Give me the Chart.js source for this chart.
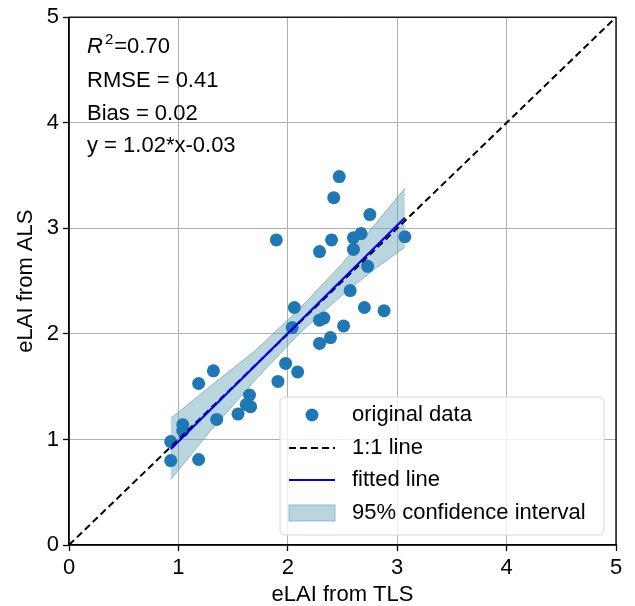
<!DOCTYPE html>
<html>
<head>
<meta charset="utf-8">
<script src="https://cdn.jsdelivr.net/npm/chart.js@4.4.1/dist/chart.umd.min.js"></script>
<style>
  html, body { margin: 0; padding: 0; background: #fff; }
  canvas { display: block; }
</style>
</head>
<body>
<canvas id="chart" width="635" height="606"></canvas>
<script>
// values
const tlsValues = [2.47, 2.42, 2.75, 1.895, 2.40, 2.60, 2.67, 3.07, 2.29, 2.60, 2.73, 2.57,
  2.70, 2.88, 2.06, 2.04, 2.29, 2.33, 2.51, 2.39, 2.29, 1.98, 2.09, 1.91, 1.32, 1.185,
  1.65, 1.62, 1.66, 1.545, 1.35, 1.04, 1.04, 0.93, 0.93, 1.185];
const alsValues = [3.49, 3.29, 3.13, 2.89, 2.89, 2.91, 2.95, 2.92, 2.78, 2.80, 2.64, 2.41,
  2.25, 2.22, 2.25, 2.06, 2.13, 2.15, 2.075, 1.965, 1.91, 1.72, 1.64, 1.55, 1.65, 1.53,
  1.42, 1.33, 1.31, 1.24, 1.19, 1.14, 1.08, 0.98, 0.80, 0.81];
const fitX = [0.93, 3.07];
const fitY = [0.91, 3.10];
const bandX = [0.93, 1.3, 1.7, 2.1, 2.5, 2.8, 3.07];
const bandUpper = [1.20, 1.51, 1.84, 2.23, 2.67, 3.04, 3.38];
const bandLower = [0.62, 1.09, 1.56, 2.00, 2.37, 2.62, 2.82];
const oneToOne = [0, 5];
const tickValues = [0, 1, 2, 3, 4, 5];
const statLines = ["RMSE = 0.41", "Bias = 0.02", "y = 1.02*x-0.03"];
const legendLabels = ["original data", "1:1 line", "fitted line", "95% confidence interval"];

const FONT = "'Liberation Sans', Arial, sans-serif";
const pointBlue = "#1f77b4";
const bandFill = "rgba(100,165,185,0.45)";
const bandEdge = "rgba(90,155,175,0.6)";

function pairs(xs, ys) {
  return xs.map((x, i) => ({ x: x, y: ys[i] }));
}

const overlay = {
  id: "overlay",
  afterDraw(chart) {
    const ctx = chart.ctx;
    const area = chart.chartArea;
    ctx.save();

    // frame
    ctx.strokeStyle = "#000";
    ctx.lineWidth = 1.3;
    ctx.strokeRect(area.left, area.top, area.right - area.left, area.bottom - area.top);

    // stats text
    ctx.fillStyle = "#000";
    ctx.textBaseline = "alphabetic";
    ctx.textAlign = "left";
    let x = 87;
    ctx.font = "italic 22px " + FONT;
    ctx.fillText("R", x, 53);
    x += ctx.measureText("R").width + 2;
    ctx.font = "15px " + FONT;
    ctx.fillText("2", x, 44);
    x += ctx.measureText("2").width + 1;
    ctx.font = "22px " + FONT;
    ctx.fillText("=0.70", x, 53);
    const baselines = [87, 120, 152];
    statLines.forEach((line, i) => ctx.fillText(line, 87, baselines[i]));

    // legend box
    const bx = 280, by = 397, bw = 324, bh = 138, r = 5;
    ctx.beginPath();
    ctx.moveTo(bx + r, by);
    ctx.arcTo(bx + bw, by, bx + bw, by + bh, r);
    ctx.arcTo(bx + bw, by + bh, bx, by + bh, r);
    ctx.arcTo(bx, by + bh, bx, by, r);
    ctx.arcTo(bx, by, bx + bw, by, r);
    ctx.closePath();
    ctx.fillStyle = "rgba(255,255,255,0.8)";
    ctx.fill();
    ctx.strokeStyle = "#d6d6d6";
    ctx.lineWidth = 1;
    ctx.stroke();

    const rows = [415, 448, 480, 513];
    const hx0 = 289, hx1 = 335;
    // marker
    ctx.fillStyle = pointBlue;
    ctx.beginPath();
    ctx.arc((hx0 + hx1) / 2, rows[0], 6.5, 0, Math.PI * 2);
    ctx.fill();
    // dashed
    ctx.strokeStyle = "#000";
    ctx.lineWidth = 2;
    ctx.setLineDash([7, 4]);
    ctx.beginPath();
    ctx.moveTo(hx0, rows[1]);
    ctx.lineTo(hx1, rows[1]);
    ctx.stroke();
    ctx.setLineDash([]);
    // fitted
    ctx.strokeStyle = "#0000ff";
    ctx.beginPath();
    ctx.moveTo(hx0, rows[2]);
    ctx.lineTo(hx1, rows[2]);
    ctx.stroke();
    // band patch
    ctx.fillStyle = bandFill;
    ctx.fillRect(hx0, rows[3] - 8, hx1 - hx0, 16);
    ctx.strokeStyle = bandEdge;
    ctx.lineWidth = 1;
    ctx.strokeRect(hx0, rows[3] - 8, hx1 - hx0, 16);

    ctx.fillStyle = "#000";
    ctx.font = "22px " + FONT;
    ctx.textBaseline = "middle";
    legendLabels.forEach((label, i) => ctx.fillText(label, 352, rows[i]));

    ctx.restore();
  },
};

const axisCommon = {
  type: "linear",
  min: 0,
  max: 5,
  afterBuildTicks(scale) {
    scale.ticks = tickValues.map((v) => ({ value: v }));
  },
  grid: {
    color: "#b0b0b0",
    lineWidth: 1,
    tickColor: "#000",
    tickLength: 6,
    tickWidth: 1.3,
  },
  border: { display: true, color: "#000", width: 1.3 },
  ticks: {
    color: "#000",
    font: { family: FONT, size: 22 },
    padding: 4,
  },
};

new Chart(document.getElementById("chart"), {
  type: "scatter",
  data: {
    datasets: [
      {
        type: "line",
        label: "1:1 line",
        data: pairs(oneToOne, oneToOne),
        borderColor: "#000",
        borderWidth: 2,
        borderDash: [7, 4],
        pointRadius: 0,
        fill: false,
        order: 1,
      },
      {
        type: "line",
        label: "fitted line",
        data: pairs(fitX, fitY),
        borderColor: "#0000ff",
        borderWidth: 2.2,
        pointRadius: 0,
        fill: false,
        order: 0,
      },
      {
        label: "original data",
        data: pairs(tlsValues, alsValues),
        backgroundColor: pointBlue,
        borderWidth: 0,
        pointRadius: 6.5,
        order: 2,
      },
      {
        type: "line",
        label: "95% confidence interval",
        data: pairs(bandX, bandUpper),
        borderColor: bandEdge,
        borderWidth: 1,
        backgroundColor: bandFill,
        pointRadius: 0,
        fill: "+1",
        order: 3,
      },
      {
        type: "line",
        label: "band lower",
        data: pairs(bandX, bandLower),
        borderColor: bandEdge,
        borderWidth: 1,
        pointRadius: 0,
        fill: false,
        order: 3,
      },
    ],
  },
  options: {
    responsive: false,
    animation: false,
    devicePixelRatio: 1,
    layout: { padding: { left: 0, right: 19, top: 14, bottom: 0 } },
    plugins: {
      legend: { display: false },
      tooltip: { enabled: false },
    },
    scales: {
      x: {
        ...axisCommon,
        position: "bottom",
        afterFit(scale) { scale.height = 61; },
        title: {
          display: true,
          text: "eLAI from TLS",
          color: "#000",
          font: { family: FONT, size: 22, lineHeight: 1 },
          padding: { top: 0, bottom: 0 },
        },
      },
      y: {
        ...axisCommon,
        position: "left",
        afterFit(scale) { scale.width = 69; },
        title: {
          display: true,
          text: "eLAI from ALS",
          color: "#000",
          font: { family: FONT, size: 22 },
          padding: { top: 13, bottom: 0 },
        },
      },
    },
  },
  plugins: [overlay],
});
</script>
</body>
</html>
